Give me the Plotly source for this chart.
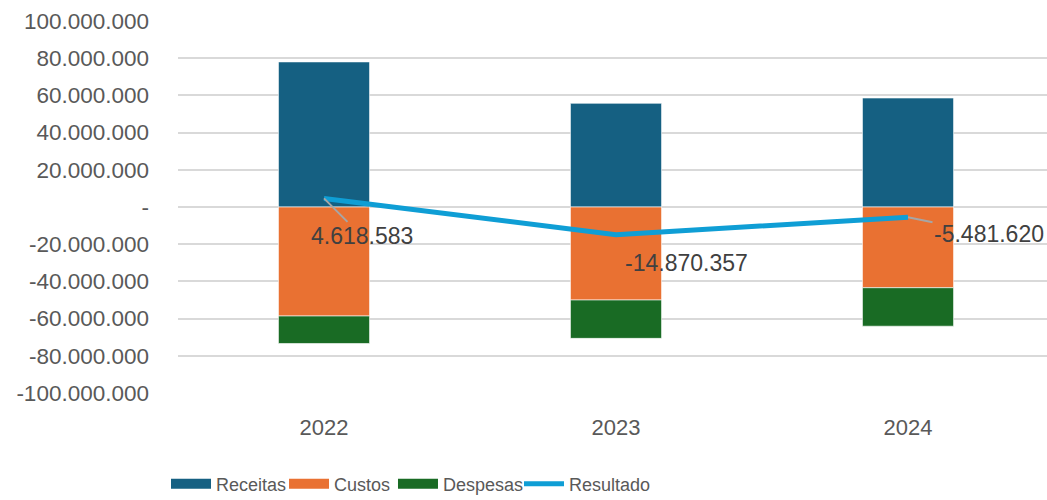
import plotly.graph_objects as go

categories = ["2022", "2023", "2024"]
receitas = [78_000_000, 55_750_000, 58_600_000]
custos = [-58_600_000, -50_000_000, -43_400_000]
despesas = [-14_781_417, -20_620_357, -20_681_620]
resultado = [4_618_583, -14_870_357, -5_481_620]
resultado_labels = ["4.618.583", "-14.870.357", "-5.481.620"]

tick_vals = [100e6, 80e6, 60e6, 40e6, 20e6, 0, -20e6, -40e6, -60e6, -80e6, -100e6]
tick_text = ["100.000.000", "80.000.000", "60.000.000", "40.000.000", "20.000.000", "-",
             "-20.000.000", "-40.000.000", "-60.000.000", "-80.000.000", "-100.000.000"]

label_offsets = [(38, 38), (70, 28), (81, 17)]
label_arrow = ["#A6A6A6", "rgba(0,0,0,0)", "#A6A6A6"]

series_names = ["Receitas", "Custos", "Despesas", "Resultado"]
series_colors = ["#156082", "#E97132", "#196B24", "#0F9ED5"]
legend_ids = ["legend", "legend2", "legend3", "legend4"]
legend_x = [-0.0138, 0.122, 0.2474, 0.3924]

FONT = "Liberation Sans, Arial, sans-serif"

fig = go.Figure()
for name, vals, col in zip(series_names[:3], [receitas, custos, despesas], series_colors[:3]):
    fig.add_trace(go.Bar(name=name, x=categories, y=vals, marker_color=col, showlegend=False,
                         marker_line=dict(color="rgba(255,255,255,0.6)", width=1)))
fig.add_trace(go.Scatter(name="Resultado", x=categories, y=resultado, mode="lines",
                         line=dict(color=series_colors[3], width=5), showlegend=False))

# legend entries (wide swatches like the original)
for name, col, lid in zip(series_names, series_colors, legend_ids):
    w = 5 if name == "Resultado" else 15
    fig.add_trace(go.Scatter(name=name, x=[None], y=[None], mode="lines",
                             line=dict(color=col, width=w), legend=lid, showlegend=True,
                             hoverinfo="skip"))

# on a category axis annotations use the category index
for i, (v, t, (ax, ay), ac) in enumerate(zip(resultado, resultado_labels, label_offsets, label_arrow)):
    fig.add_annotation(x=i, y=v, text=t, showarrow=True, ax=ax, ay=ay,
                       arrowhead=0, arrowwidth=2, arrowcolor=ac, standoff=0,
                       font=dict(family=FONT, size=23, color="#404040"))

legend_common = dict(orientation="h", yref="container", xref="paper", xanchor="left",
                     y=0.032, yanchor="middle", bgcolor="rgba(0,0,0,0)",
                     font=dict(family=FONT, size=18, color="#595959"), itemwidth=40)

fig.update_layout(
    barmode="relative",
    bargap=0.688,
    width=1047, height=500,
    margin=dict(l=178, r=0, t=21, b=107),
    paper_bgcolor="white", plot_bgcolor="white",
    font=dict(family=FONT, color="#595959"),
    showlegend=True,
    legend=dict(x=legend_x[0], **legend_common),
    legend2=dict(x=legend_x[1], **legend_common),
    legend3=dict(x=legend_x[2], **legend_common),
    legend4=dict(x=legend_x[3], **legend_common),
)
fig.update_yaxes(range=[-100e6, 100e6], tickvals=tick_vals, ticktext=tick_text,
                 showgrid=True, gridcolor="#D9D9D9", gridwidth=2, zeroline=False,
                 tickfont=dict(size=22.5, color="#595959"), ticklabelstandoff=28,
                 showline=False)
fig.update_xaxes(type="category", range=[-0.5, 2.476], showgrid=False, showline=False,
                 tickfont=dict(size=22, color="#595959"), ticklabelstandoff=19)

fig.write_html("out.html")
